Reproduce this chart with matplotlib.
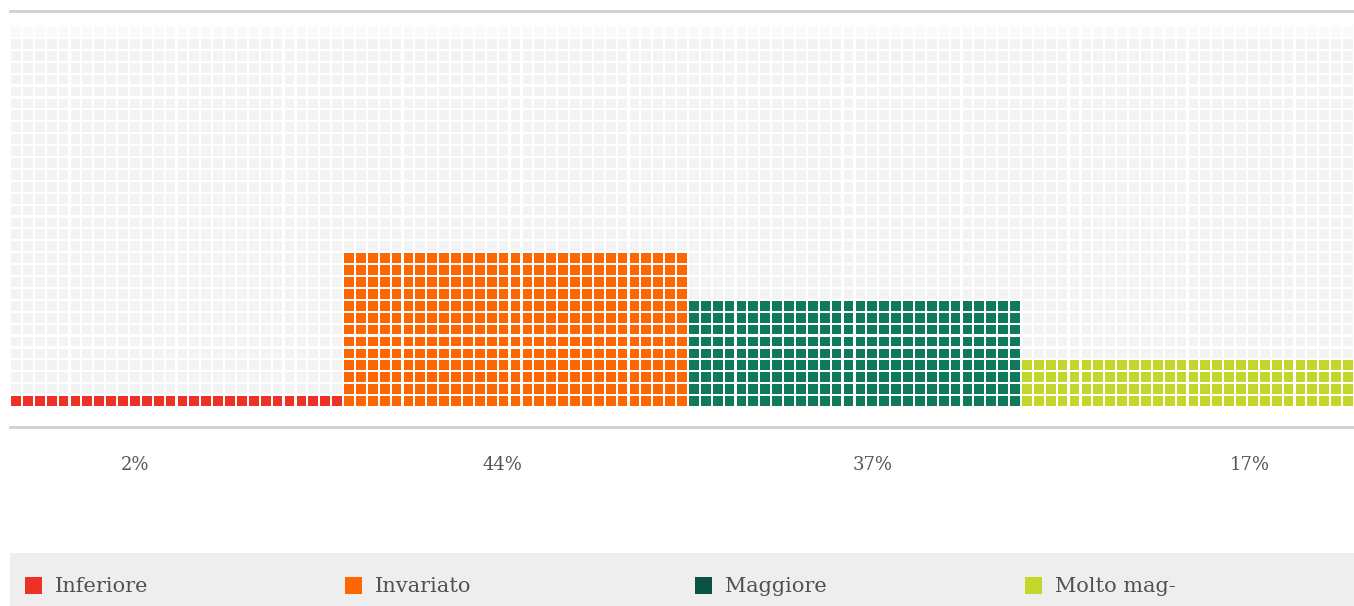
import matplotlib
matplotlib.use("Agg")
from matplotlib import pyplot as plt
from matplotlib.patches import Rectangle
from matplotlib.collections import PatchCollection

# data
categories = ['Inferiore', 'Invariato', 'Maggiore', 'Molto mag-']
percent = [2, 44, 37, 17]
filled_rows = [1, 13, 9, 4]
group_cols = [28, 29, 28, 28]

cell_colors = ['#ee3127', '#fd6600', '#0e7a5b', '#c3d72b']
legend_colors = ['#ee3127', '#fd6600', '#0b5240', '#c3d72b']
total_rows = 32
total_cols = sum(group_cols)

W, H = 1354, 606
fig = plt.figure(figsize=(W / 100, H / 100), dpi=100)
fig.patch.set_facecolor('white')

# overlay axes in pixel coordinates for lines, labels, legend
base = fig.add_axes([0, 0, 1, 1])
base.set_xlim(0, W)
base.set_ylim(H, 0)
base.axis('off')

# grid axes, one unit per cell
gx0, gx1, gy0, gy1 = 10, 1354, 26, 407
ax = fig.add_axes([gx0 / W, (H - gy1) / H, (gx1 - gx0) / W, (gy1 - gy0) / H])
ax.set_xlim(0, total_cols)
ax.set_ylim(0, total_rows)
ax.axis('off')

gap = 0.18
gray, colored = [], []
gray_top = []
col0 = 0
for i, ncols in enumerate(group_cols):
    for c in range(col0, col0 + ncols):
        for r in range(total_rows):
            rect = Rectangle((c + gap / 2, r + gap / 2), 1 - gap, 1 - gap)
            if r < filled_rows[i]:
                rect.set_facecolor(cell_colors[i])
                colored.append(rect)
            elif r == total_rows - 1:
                gray_top.append(rect)
            else:
                gray.append(rect)
    col0 += ncols

ax.add_collection(PatchCollection(gray, facecolor='#f3f3f3', edgecolor='none'))
ax.add_collection(PatchCollection(gray_top, facecolor='#f9f9f9', edgecolor='none'))
ax.add_collection(PatchCollection(colored, match_original=True, edgecolor='none'))

# rules above and below the grid
base.plot([10, W], [11, 11], color='#d0d0d0', lw=2)
base.plot([10, W], [427, 427], color='#d0d0d0', lw=2)

font = ['DejaVu Serif']

label_x = [135, 502, 873, 1250]
for x, p in zip(label_x, percent):
    base.text(x, 465, f'{p}%', ha='center', va='center', fontsize=13,
              color='#555555', family=font)

# legend band
base.add_patch(Rectangle((10, 553), W - 10, H - 553, facecolor='#eeeeef', edgecolor='none'))
legend_x = [25, 345, 695, 1025]
for x, name, col in zip(legend_x, categories, legend_colors):
    base.add_patch(Rectangle((x, 577), 17, 17, facecolor=col, edgecolor='none'))
    base.text(x + 30, 586, name, ha='left', va='center', fontsize=15,
              color='#505050', family=font)

fig.savefig('out.png', dpi=100, facecolor='white')
